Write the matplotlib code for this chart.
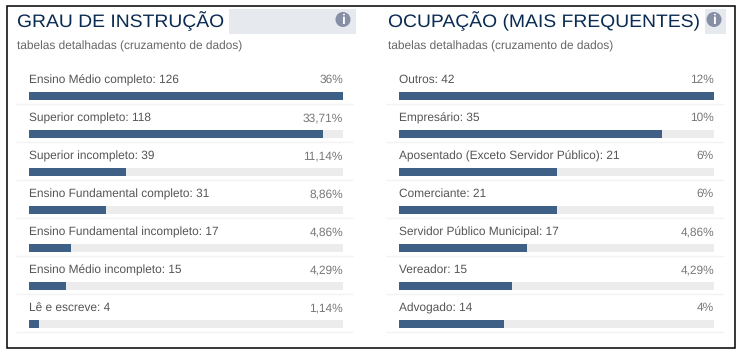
import matplotlib
matplotlib.use('Agg')
import matplotlib.pyplot as plt
import matplotlib.patches as patches
from matplotlib.patheffects import AbstractPathEffect
from matplotlib.transforms import Affine2D

plt.rcParams['font.family'] = ['Liberation Sans', 'DejaVu Sans']
plt.rcParams['text.hinting'] = 'none'
plt.rcParams['text.kerning_factor'] = 0

# Datos
titulo_izq = "GRAU DE INSTRUÇÃO"
categorias_izq = ["Ensino Médio completo", "Superior completo", "Superior incompleto",
                  "Ensino Fundamental completo", "Ensino Fundamental incompleto",
                  "Ensino Médio incompleto", "Lê e escreve"]
valores_izq = [126, 118, 39, 31, 17, 15, 4]
porcentajes_izq = ["36%", "33,71%", "11,14%", "8,86%", "4,86%", "4,29%", "1,14%"]

titulo_der = "OCUPAÇÃO (MAIS FREQUENTES)"
categorias_der = ["Outros", "Empresário", "Aposentado (Exceto Servidor Público)", "Comerciante",
                  "Servidor Público Municipal", "Vereador", "Advogado"]
valores_der = [42, 35, 21, 21, 17, 15, 14]
porcentajes_der = ["12%", "10%", "6%", "6%", "4,86%", "4,29%", "4%"]

subtitulo = "tabelas detalhadas (cruzamento de dados)"

W, H = 743, 355
AZUL = '#3e6087'
PISTA = '#ececec'
LINEA = '#f3f3f3'
TAM_TITULO = 13
TAM_TEXTO = 8.6
K_TITULO = 1.07


class Estirar(AbstractPathEffect):
    # Ensancha el titulo en horizontal, el original lleva letter-spacing
    def __init__(self, x0, k):
        super().__init__()
        self.x0 = x0
        self.k = k

    def draw_path(self, renderer, gc, tpath, affine, rgbFace=None):
        extra = Affine2D().translate(-self.x0, 0).scale(self.k, 1).translate(self.x0, 0)
        renderer.draw_path(gc, tpath, affine + extra, rgbFace)


fig = plt.figure(figsize=(W / 100, H / 100), dpi=100, facecolor='white')

# Fondo en coordenadas de pixel
fondo = fig.add_axes([0, 0, 1, 1])
fondo.set_xlim(0, W)
fondo.set_ylim(H, 0)
fondo.axis('off')
fondo.add_patch(patches.Rectangle((6.5, 5.5), 728.5, 342, facecolor='white',
                                  edgecolor='black', linewidth=1.1))


def icono(cx, cy):
    fondo.add_patch(patches.Circle((cx, cy), 7.5, facecolor='#868fa6', edgecolor='none'))
    fondo.text(cx, cy + 0.5, "i", color='white', fontsize=10, fontweight='bold',
               ha='center', va='center')


def panel(x0, x1, xt, titulo, categorias, valores, porcentajes):
    # Titulo y subtitulo
    t = fondo.text(xt, 21, titulo, color='#0b2c52', fontsize=TAM_TITULO,
                   ha='left', va='center')
    t.set_path_effects([Estirar(xt, K_TITULO)])
    fondo.text(xt, 46, subtitulo, color='#666666', fontsize=TAM_TEXTO, ha='left', va='center')

    # Barras: una fila por categoria, 38 px entre filas
    y_ini, y_fin = 77, 343
    ax = fig.add_axes([x0 / W, 1 - y_fin / H, (x1 - x0) / W, (y_fin - y_ini) / H])
    ax.axis('off')
    ax.set_xlim(0, max(valores))
    ax.set_ylim((y_fin - 96) / 38, (y_ini - 96) / 38)
    filas = list(range(len(valores)))
    ax.barh(filas, [max(valores)] * len(valores), height=8 / 38, color=PISTA)
    ax.barh(filas, valores, height=8 / 38, color=AZUL)
    for i in filas:
        ax.text(0, i - 15.8 / 38, "%s: %d" % (categorias[i], valores[i]), color='#555555',
                fontsize=TAM_TEXTO, ha='left', va='center')
        ax.text(max(valores), i - 15.8 / 38, porcentajes[i], color='#777777',
                fontsize=TAM_TEXTO, ha='right', va='center')
        ax.annotate("", xy=(1 + 10 / (x1 - x0), i + 8.5 / 38),
                    xytext=(-12 / (x1 - x0), i + 8.5 / 38),
                    xycoords=ax.get_yaxis_transform(), textcoords=ax.get_yaxis_transform(),
                    arrowprops=dict(arrowstyle='-', color=LINEA, lw=1, shrinkA=0, shrinkB=0))


fondo.add_patch(patches.Rectangle((229, 9), 127, 25, facecolor='#e6e9ed', edgecolor='none'))
fondo.add_patch(patches.Rectangle((705, 9), 21, 25, facecolor='#e6e9ed', edgecolor='none'))
icono(343, 19.5)
icono(714, 19.5)

panel(29, 343, 17, titulo_izq, categorias_izq, valores_izq, porcentajes_izq)
panel(399, 714, 388, titulo_der, categorias_der, valores_der, porcentajes_der)

fig.savefig("out.png", dpi=100)
plt.close("all")
